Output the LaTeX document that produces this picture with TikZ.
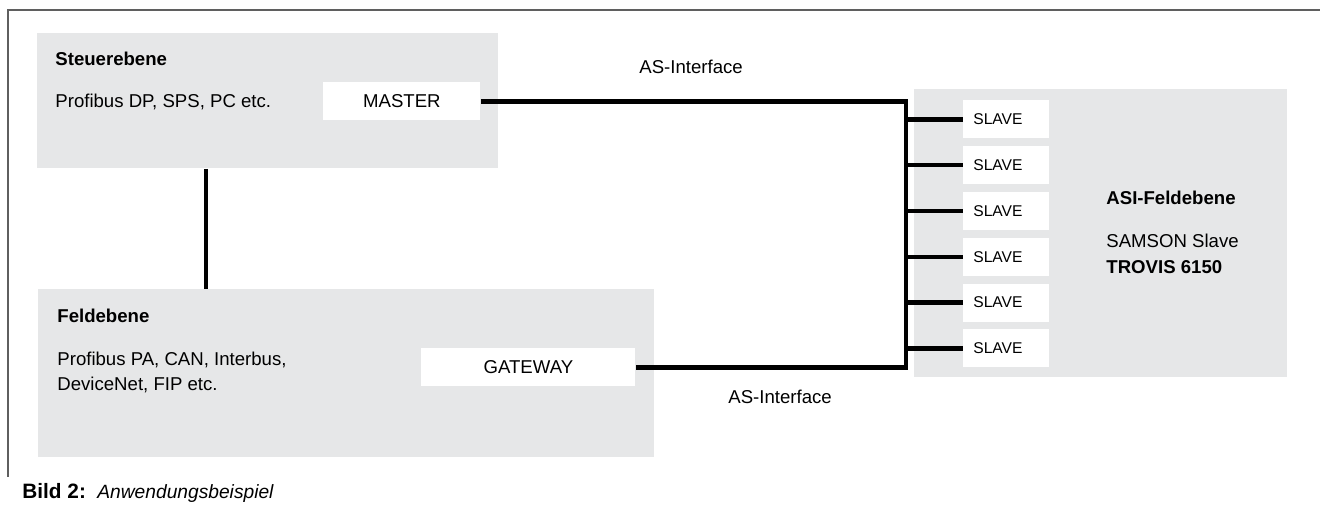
\documentclass[tikz,border=0pt]{standalone}
\usepackage{fontspec}
\setmainfont{Liberation Sans}
\usepackage{tikz}
\definecolor{boxgray}{HTML}{E6E7E8}
\definecolor{framegray}{HTML}{5F5F5F}

\tikzset{
 level/.style={fill=boxgray, anchor=north west, inner sep=0pt},
 unitbox/.style={fill=white, anchor=north west, inner sep=0pt, minimum height=19pt},
 slavebox/.style={fill=white, anchor=north west, inner xsep=5pt, inner ysep=0pt,
   text width=33pt, align=left, minimum height=19pt, font=\fontsize{7.8}{9}\selectfont},
 busline/.style={line width=2.2pt},
 txt/.style={anchor=base west, inner sep=0pt},
}

\begin{document}
\fontsize{9.3}{12}\selectfont
\begin{tikzpicture}[x=0.5pt,y=-0.5pt]

\useasboundingbox (0,0) rectangle (1320,511);

\draw[framegray, line width=0.75pt] (1320,10) -- (8,10) -- (8,477);

\node[level, minimum width=230.5pt, minimum height=67.5pt] (steuer) at (37,33) {};
\node[level, minimum width=308pt, minimum height=84pt] (feld) at (38,289) {};
\node[level, minimum width=186.5pt, minimum height=144pt] (asi) at (914,89) {};

\node[unitbox, minimum width=78.5pt] (master) at (323,82) {MASTER};
\node[unitbox, minimum width=107pt] (gateway) at (421,348) {GATEWAY};

\foreach \i in {1,...,6}
  \node[slavebox] (slave\i) at (963,{100+45.8*(\i-1)}) {SLAVE};

\node[txt, font=\bfseries] (steuertitle) at (55,65) {Steuerebene};
\node[txt] (steuertext) at (55,107) {Profibus DP, SPS, PC etc.};

\node[txt, font=\bfseries] (feldtitle) at (57,322) {Feldebene};
\node[txt] (feldtext1) at (57,365) {Profibus PA, CAN, Interbus,};
\node[txt] (feldtext2) at (57,390) {DeviceNet, FIP etc.};

\node[txt, font=\bfseries] (asititle) at (1106,204) {ASI-Feldebene};
\node[txt] (asitext1) at (1106,247) {SAMSON Slave};
\node[txt, font=\bfseries] (asitext2) at (1106,273) {TROVIS 6150};

\node[txt] (astop) at (639,73) {AS-Interface};
\node[txt] (asbottom) at (728,403) {AS-Interface};

\coordinate (bus) at (906,0);
\coordinate (link) at (206,0);

\draw[busline] (master.east) -- (master.east -| bus) -- (gateway.east -| bus) -- (gateway.east);
\foreach \i in {1,...,6}
  \draw[busline] (slave\i.west -| bus) -- (slave\i.west);
\draw[busline] (link |- steuer.south) -- (link |- feld.north);

\node[txt, font=\fontsize{10.4}{12}\selectfont\bfseries] (caption) at (22,498) {Bild 2:};
\node[txt, font=\fontsize{9.6}{12}\selectfont\itshape] (captiontext) at (97,498) {Anwendungsbeispiel};

\end{tikzpicture}
\end{document}
